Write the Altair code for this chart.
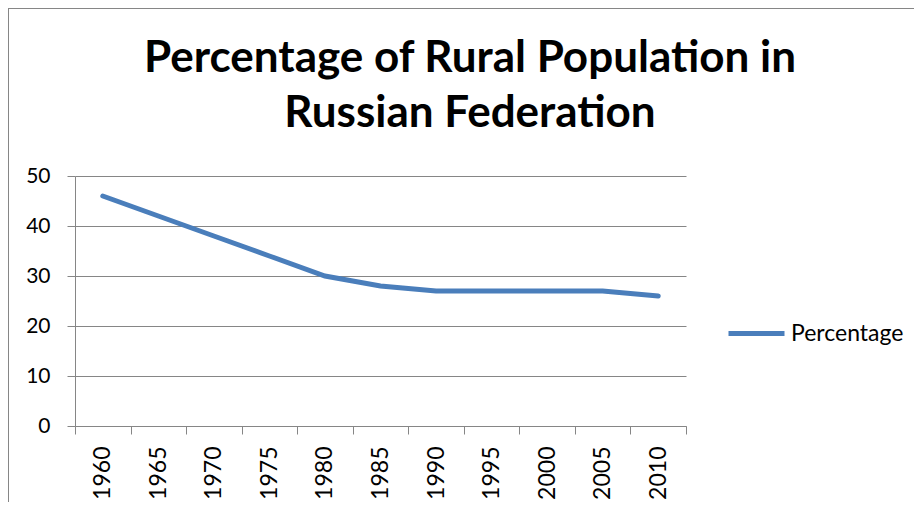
import altair as alt
import pandas as pd

years = ["1960", "1965", "1970", "1975", "1980", "1985", "1990", "1995", "2000", "2005", "2010"]
percentage = [46, 42, 38, 34, 30, 28, 27, 27, 27, 27, 26]
series_name = "Percentage"
title_lines = ["Percentage of Rural Population in", "Russian Federation"]

df = pd.DataFrame({"year": years, "value": percentage, "series": [series_name] * len(years)})

W, H = 611, 250
PAD_L, PAD_T, PAD_R, PAD_B = 67, 168, 228, 76
GRAY = "#868686"
BLUE = "#4A7EBB"
FONT = "Lato"

line = alt.Chart(df).mark_line(strokeWidth=5, strokeCap="round").encode(
    x=alt.X("year:O", sort=years, title=None,
            scale=alt.Scale(type="band", paddingInner=0, paddingOuter=0),
            axis=alt.Axis(labelAngle=270, labelAlign="right", labelBaseline="middle",
                          tickBand="extent", tickSize=8, labelPadding=12,
                          domainColor=GRAY, tickColor=GRAY, labelFont=FONT,
                          labelFontSize=23, labelColor="black", grid=False)),
    y=alt.Y("value:Q", title=None,
            scale=alt.Scale(domain=[0, 50], nice=False),
            axis=alt.Axis(values=[0, 10, 20, 30, 40, 50], tickSize=8, labelPadding=17,
                          domainColor=GRAY, tickColor=GRAY, gridColor=GRAY,
                          labelFont=FONT, labelFontSize=21, labelColor="black")),
    color=alt.Color("series:N", scale=alt.Scale(range=[BLUE]),
                    legend=alt.Legend(title=None, orient="none", legendX=651, legendY=127,
                                      symbolType="stroke", symbolSize=3136,
                                      symbolStrokeWidth=5, labelFont=FONT,
                                      labelFontSize=23, labelColor="black", labelOffset=4)),
)

border_top = alt.Chart(df).mark_rule(color=GRAY, strokeWidth=1).encode(
    x=alt.value(-PAD_L + 0.5), x2=alt.value(W + PAD_R), y=alt.value(-PAD_T + 0.5))
border_left = alt.Chart(df).mark_rule(color=GRAY, strokeWidth=1).encode(
    x=alt.value(-PAD_L + 0.5), y=alt.value(-PAD_T + 0.5), y2=alt.value(H + PAD_B))

chart = alt.layer(border_top, border_left, line).properties(
    width=W, height=H,
    autosize=alt.AutoSizeParams(type="none"),
    padding={"left": PAD_L, "top": PAD_T, "right": PAD_R, "bottom": PAD_B},
    title=alt.TitleParams(text=title_lines, font=FONT, fontSize=44, fontWeight="bold",
                          color="black", anchor="middle", dx=89.5, offset=-127.5,
                          lineHeight=55),
).configure_view(stroke="transparent")

chart.save("out.html", embed_options={"renderer": "svg", "actions": False})
